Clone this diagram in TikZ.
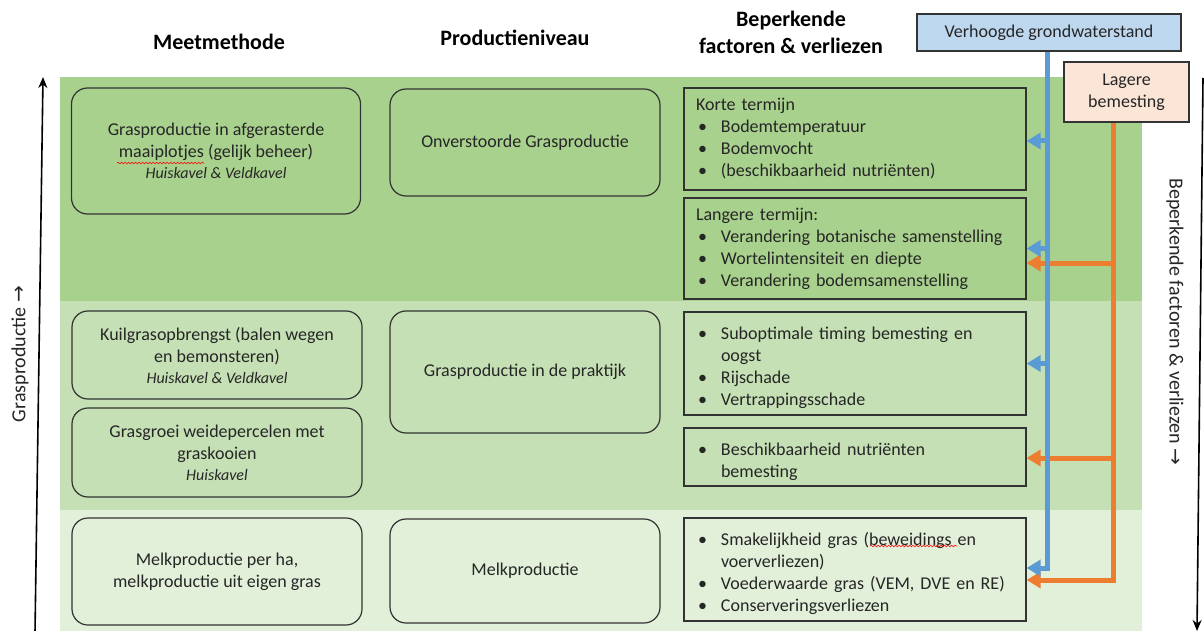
\documentclass[tikz,border=0pt]{standalone}
\usepackage{fontspec}
\setmainfont{Carlito}
\newfontfamily\symfont{DejaVu Sans}
\usetikzlibrary{arrows.meta,decorations.pathmorphing}
\definecolor{bandA}{HTML}{A9D18E}
\definecolor{bandB}{HTML}{C5E0B4}
\definecolor{bandC}{HTML}{E2F0D9}
\definecolor{gwfill}{HTML}{BDD7EE}
\definecolor{bmfill}{HTML}{FBE5D6}
\definecolor{gwline}{HTML}{5B9BD5}
\definecolor{bmline}{HTML}{ED7D31}
\definecolor{txt}{HTML}{262626}
\setlength\parindent{0pt}
\newcommand{\itm}[1]{\par\hangindent=25pt\hangafter=1\noindent\makebox[25pt][l]{\hspace{2pt}\textbullet}#1}
\newcommand{\nl}{\hfil\break}
\newcommand{\kavel}[1]{{\fontsize{16}{21}\selectfont\itshape #1}}
\begin{document}
\begin{tikzpicture}[x=1pt,y=-1pt,
  lbl/.style={font=\fontsize{20}{24}\selectfont, text=txt},
  hdr/.style={font=\fontsize{22}{27}\selectfont\bfseries, text=black, align=center},
  meet/.style={draw=black!80, line width=1.2pt, rounded corners=16pt, align=center,
    font=\fontsize{18}{22}\selectfont, text=txt, inner sep=0pt},
  fact/.style={draw=black!80, line width=1.2pt, align=left, text width=318pt,
    inner xsep=12pt, inner ysep=0pt, font=\fontsize{18}{22}\selectfont, text=txt},
  cause/.style={draw=black!80, line width=1.2pt, align=center,
    font=\fontsize{18}{22}\selectfont, text=txt, inner sep=0pt},
  gwarrow/.style={draw=gwline, line width=5pt, -{Triangle[length=14pt,width=16pt]}},
  bmarrow/.style={draw=bmline, line width=5pt, -{Triangle[length=14pt,width=16pt]}},
  axis/.style={draw=black, line width=1.6pt, -{Stealth[length=11pt,width=9pt]}},
  spell/.style={draw=red, line width=0.6pt, decorate, decoration={snake,amplitude=0.8pt,segment length=3.5pt}}
]
\useasboundingbox (0,0) rectangle (1204,631);
% bands
\fill[bandA] (60,77) rectangle (1142,301);
\fill[bandB] (60,301) rectangle (1142,510);
\fill[bandC] (60,510) rectangle (1142,631);

% headers
\node[hdr] (h1) at (219,42) {Meetmethode};
\node[hdr] (h2) at (515,38) {Productieniveau};
\node[hdr] (h3) at (791,32) {Beperkende\\factoren \& verliezen};

% measuring methods
\node[meet, minimum width=289pt, minimum height=126pt] (m1) at (216,151)
  {Grasproductie in afgerasterde\\maaiplotjes (gelijk beheer)\\[-1pt]\kavel{Huiskavel \& Veldkavel}};
\node[meet, minimum width=290pt, minimum height=88pt] (m2) at (217,355)
  {Kuilgrasopbrengst (balen wegen\\en bemonsteren)\\[-1pt]\kavel{Huiskavel \& Veldkavel}};
\node[meet, minimum width=290pt, minimum height=89pt] (m3) at (217,452.5)
  {Grasgroei weidepercelen met\\graskooien\\[-1pt]\kavel{Huiskavel}};
\node[meet, minimum width=290pt, minimum height=107pt] (m4) at (217,571.5)
  {Melkproductie per ha,\\melkproductie uit eigen gras};

% production levels
\node[meet, minimum width=270pt, minimum height=107pt] (p1) at (525,142.5) {Onverstoorde Grasproductie};
\node[meet, minimum width=270pt, minimum height=122pt] (p2) at (525,372) {Grasproductie in de praktijk};
\node[meet, minimum width=270pt, minimum height=104pt] (p3) at (525,571) {Melkproductie};

% limiting factors
\node[fact, minimum height=102pt] (f1) at (855,139)
  {Korte termijn\itm{Bodemtemperatuur}\itm{Bodemvocht}\itm{(beschikbaarheid nutriënten)}\par};
\node[fact, minimum height=101pt] (f2) at (855,248.5)
  {Langere termijn:\itm{Verandering botanische samenstelling}\itm{Wortelintensiteit en diepte}\itm{Verandering bodemsamenstelling}\par};
\node[fact, minimum height=103pt] (f3) at (855,363.5)
  {\itm{Suboptimale timing bemesting en\nl oogst}\itm{Rijschade}\itm{Vertrappingsschade}\par};
\node[fact, minimum height=58pt] (f4) at (855,457)
  {\itm{Beschikbaarheid nutriënten\nl bemesting}\par};
\node[fact, minimum height=103pt] (f5) at (855,569.5)
  {\itm{Smakelijkheid gras (beweidings en\nl voerverliezen)}\itm{Voederwaarde gras (VEM, DVE en RE)}\itm{Conserveringsverliezen}\par};

% spelling marks
\draw[spell] (117,163) -- (204,163);
\draw[spell] (870,546) -- (957,546);

% causes
\node[cause, fill=gwfill, minimum width=264pt, minimum height=37pt] (gw) at (1049,32.5) {Verhoogde grondwaterstand};
\node[cause, fill=bmfill, minimum width=125pt, minimum height=60pt] (bm) at (1126.5,92) {Lagere\\bemesting};

% helper coordinates
\coordinate (bx) at (1047,0);
\coordinate (ox) at (1113,0);
\coordinate (tb1) at ([yshift=-2pt]f1.east);
\coordinate (tb2) at (f2.east);
\coordinate (tb3) at (f3.east);
\coordinate (tb5) at ([yshift=1.5pt]f5.east);
\coordinate (to2) at ([yshift=-14.5pt]f2.east);
\coordinate (to4) at ([yshift=-1pt]f4.east);
\coordinate (to5) at ([yshift=-10.5pt]f5.east);

% orange connectors
\draw[bmarrow] (bm.south -| ox) |- (to5);
\draw[bmarrow] (to2 -| ox) -- (to2);
\draw[bmarrow] (to4 -| ox) -- (to4);
% blue connectors
\draw[gwarrow] (gw.south -| bx) |- (tb5);
\draw[gwarrow] (tb1 -| bx) -- (tb1);
\draw[gwarrow] (tb2 -| bx) -- (tb2);
\draw[gwarrow] (tb3 -| bx) -- (tb3);

% axes
\coordinate (la0) at (35,633);
\coordinate (la1) at (43,77);
\coordinate (ra0) at (1203,78);
\coordinate (ra1) at (1197,631);
\draw[axis] (la0) -- (la1);
\draw[axis] (ra0) -- (ra1);
\node[lbl, rotate=90] (gp) at (20,354) {Grasproductie {\symfont\fontsize{20}{20}\selectfont →}};
\node[lbl, rotate=-90] (bf) at (1175,322) {Beperkende factoren \& verliezen {\symfont\fontsize{20}{20}\selectfont →}};
\end{tikzpicture}
\end{document}
